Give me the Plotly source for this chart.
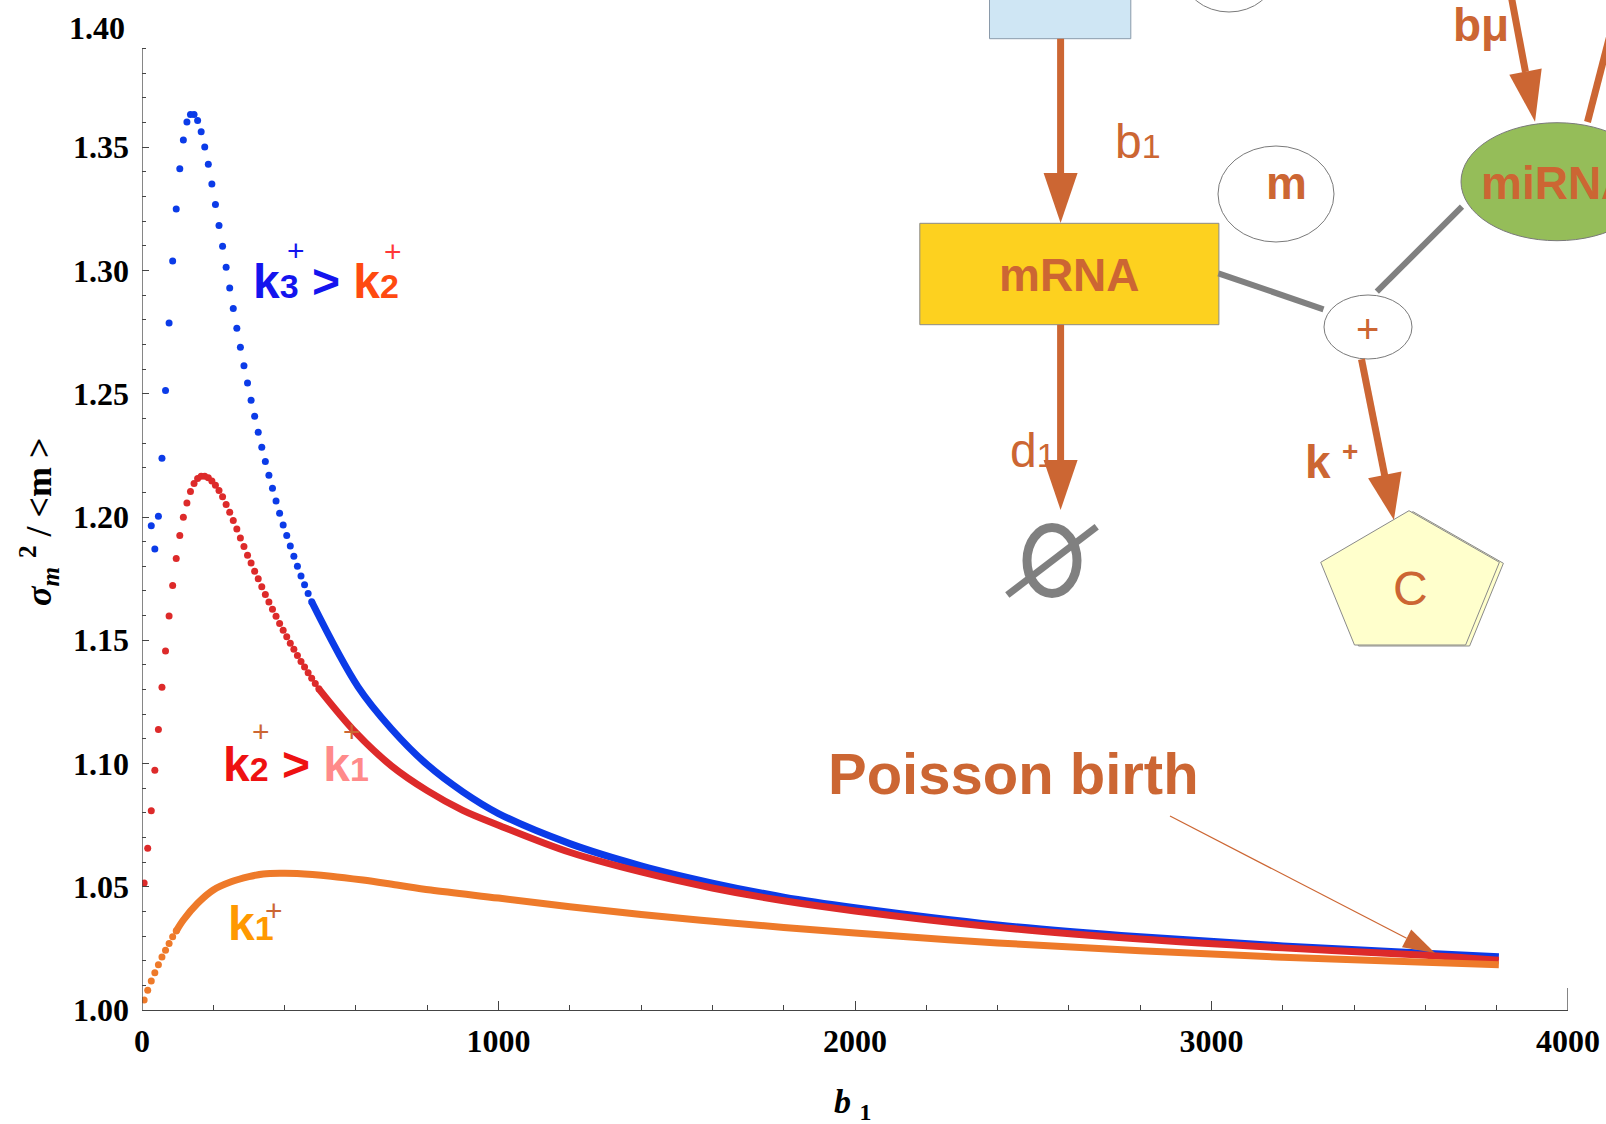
import plotly.graph_objects as go

# ---------------------------------------------------------------- data
# Fano factor sigma_m^2/<m> versus transcription rate b1, three k+ values.
# Dotted part (individually resolved points)
blue_b1 = [26, 36, 46, 56, 66, 76, 86, 96, 106, 116, 126, 136, 146, 156, 166,
           176, 186, 196, 206, 216, 226, 236, 246, 256, 266, 276, 286, 296,
           306, 316, 326, 336, 346, 356, 366, 376, 386, 396, 406, 416, 426,
           436, 446, 456, 466, 476]
blue_fano = [1.1964, 1.1870, 1.2003, 1.2238, 1.2513, 1.2787, 1.3039, 1.3249,
             1.3413, 1.3529, 1.3602, 1.3633, 1.3633, 1.3609, 1.3563, 1.3501,
             1.3431, 1.3351, 1.3268, 1.3183, 1.3098, 1.3013, 1.2929, 1.2846,
             1.2766, 1.2689, 1.2614, 1.2544, 1.2474, 1.2409, 1.2344, 1.2283,
             1.2225, 1.2169, 1.2117, 1.2065, 1.2015, 1.1968, 1.1925, 1.1882,
             1.1841, 1.1800, 1.1761, 1.1725, 1.1690, 1.1656]

red_b1 = [6, 16, 26, 36, 46, 56, 66, 76, 86, 96, 106, 116, 126, 136, 146, 156,
          166, 176, 186, 196, 206, 216, 226, 236, 246, 256, 266, 276, 286, 296,
          306, 316, 326, 336, 346, 356, 366, 376, 386, 396, 406, 416, 426, 436,
          446, 456, 466, 476, 486, 496]
red_fano = [1.0515, 1.0656, 1.0808, 1.0973, 1.1138, 1.1309, 1.1456, 1.1598,
            1.1722, 1.1832, 1.1925, 1.1999, 1.2057, 1.2103, 1.2136, 1.2156,
            1.2165, 1.2165, 1.2159, 1.2146, 1.2129, 1.2107, 1.2082, 1.2051,
            1.2019, 1.1986, 1.1951, 1.1915, 1.1880, 1.1845, 1.1813, 1.1780,
            1.1749, 1.1717, 1.1686, 1.1655, 1.1626, 1.1597, 1.1568, 1.1541,
            1.1514, 1.1488, 1.1463, 1.1438, 1.1414, 1.1391, 1.1368, 1.1346,
            1.1325, 1.1303]

orange_b1 = [6, 16, 26, 36, 46, 56, 66, 76, 86, 96]
orange_fano = [1.0041, 1.0080, 1.0118, 1.0151, 1.0184, 1.0215, 1.0242,
               1.0270, 1.0297, 1.0320]

# Dense part (points overlap into a solid band)
blue_tail_b1 = [476, 606, 700, 800, 900, 1000, 1200, 1400, 1600, 1800, 2000,
                2400, 2800, 3200, 3600, 3806]
blue_tail_fano = [1.1656, 1.1311, 1.1140, 1.0995, 1.0885, 1.0797, 1.0675,
                  1.0585, 1.0515, 1.0458, 1.0415, 1.0345, 1.0297, 1.0260,
                  1.0230, 1.0216]

red_tail_b1 = [496, 600, 700, 800, 900, 1000, 1200, 1400, 1600, 1800, 2000,
               2400, 2800, 3200, 3600, 3806]
red_tail_fano = [1.1303, 1.1125, 1.0990, 1.0890, 1.0810, 1.0750, 1.0640,
                 1.0560, 1.0495, 1.0443, 1.0402, 1.0336, 1.0288, 1.0252,
                 1.0222, 1.0202]

orange_tail_b1 = [96, 116, 156, 200, 250, 300, 340, 390, 435, 530, 620, 715,
                  810, 1000, 1200, 1400, 1600, 1800, 2000, 2400, 2800, 3200,
                  3600, 3806]
orange_tail_fano = [1.0320, 1.0365, 1.0433, 1.0487, 1.0520, 1.0541, 1.0552,
                    1.0555, 1.0554, 1.0543, 1.0527, 1.0507, 1.0487, 1.0454,
                    1.0419, 1.0387, 1.0360, 1.0335, 1.0312, 1.0272, 1.0240,
                    1.0214, 1.0194, 1.0184]

x_ticks = [0, 1000, 2000, 3000, 4000]
y_ticks = [1.00, 1.05, 1.10, 1.15, 1.20, 1.25, 1.30, 1.35]

BLUE = "#0B3BE8"
RED = "#DD2A2A"
ORANGE = "#EE7A2A"
BROWN = "#CC6633"
GREY = "#808080"

# ---------------------------------------------------------------- geometry
W, H = 1606, 1124
ML, MR, MT, MB = 142, 38, 24, 114
PW, PH = W - ML - MR, H - MT - MB


def px(x):
    """pixel column -> paper x"""
    return (x - ML) / PW


def py(y):
    """pixel row -> paper y"""
    return (H - MB - y) / PH


fig = go.Figure()

for xs, ys, col in [(blue_tail_b1, blue_tail_fano, BLUE),
                    (red_tail_b1, red_tail_fano, RED),
                    (orange_tail_b1, orange_tail_fano, ORANGE)]:
    fig.add_trace(go.Scatter(x=xs, y=ys, mode="lines",
                             line=dict(color=col, width=7, shape="spline"),
                             hoverinfo="skip", showlegend=False))

for xs, ys, col in [(blue_b1, blue_fano, BLUE),
                    (red_b1, red_fano, RED),
                    (orange_b1, orange_fano, ORANGE)]:
    fig.add_trace(go.Scatter(x=xs, y=ys, mode="markers",
                             marker=dict(color=col, size=7, line=dict(width=0)),
                             showlegend=False))

shapes = []


def line(x0, y0, x1, y1, color, width):
    shapes.append(dict(type="line", xref="paper", yref="paper",
                       x0=px(x0), y0=py(y0), x1=px(x1), y1=py(y1),
                       line=dict(color=color, width=width), layer="above"))


def poly(points, fill, lcolor="rgba(0,0,0,0)", lwidth=0):
    path = "M " + " L ".join(f"{px(a):.5f},{py(b):.5f}" for a, b in points) + " Z"
    shapes.append(dict(type="path", xref="paper", yref="paper", path=path,
                       fillcolor=fill, line=dict(color=lcolor, width=lwidth),
                       layer="above"))


def rect(x0, y0, x1, y1, fill, lcolor="#888888"):
    shapes.append(dict(type="rect", xref="paper", yref="paper",
                       x0=px(x0), y0=py(y1), x1=px(x1), y1=py(y0),
                       fillcolor=fill, line=dict(color=lcolor, width=1),
                       layer="above"))


def ellipse(cx, cy, rx, ry, fill, lcolor="#7A7A7A", lwidth=1):
    shapes.append(dict(type="circle", xref="paper", yref="paper",
                       x0=px(cx - rx), x1=px(cx + rx),
                       y0=py(cy + ry), y1=py(cy - ry),
                       fillcolor=fill, line=dict(color=lcolor, width=lwidth),
                       layer="above"))


# y axis line stops at 1.39
shapes.append(dict(type="line", xref="x", yref="y", x0=0, x1=0, y0=1.0,
                   y1=1.39, line=dict(color="#444444", width=1.3)))
# closing tick at the right end of the x axis
shapes.append(dict(type="line", xref="x", yref="paper", x0=4000, x1=4000,
                   y0=0, y1=22 / PH, line=dict(color="#444444", width=1.3)))

# reaction scheme
rect(989.5, -5, 1130.8, 38.7, "#CFE6F4", "#8A9AAA")
ellipse(1229, -26, 46, 38, "white")
line(1060.6, 38.7, 1060.6, 176, BROWN, 7)
poly([(1043.6, 173), (1077.6, 173), (1060.6, 223)], BROWN)
rect(919.8, 223.3, 1218.9, 324.7, "#FDD11F", "#8A8A8A")
ellipse(1276, 194, 58, 48, "white")
line(1218.4, 273.3, 1323.5, 309.3, GREY, 6)
ellipse(1368, 327, 44, 32, "white")
line(1376.8, 291.7, 1462, 206.7, GREY, 6)
ellipse(1557, 181.7, 96, 59, "#95BD59")
line(1511, -5, 1525.5, 72, BROWN, 7)
poly([(1541.7, 68.5), (1509.3, 74.7), (1535, 121.7)], BROWN)
line(1610, 35, 1587.5, 122, BROWN, 7)
line(1060.6, 324.7, 1060.6, 463, BROWN, 7)
poly([(1043.6, 460), (1077.6, 460), (1060.6, 510)], BROWN)
ellipse(1052, 560.5, 25, 33, "rgba(0,0,0,0)", GREY, 9)
line(1007.3, 595, 1096.7, 526.7, GREY, 7)
line(1361.5, 359.3, 1384.8, 476, BROWN, 7)
poly([(1401.5, 471.5), (1368.1, 478.3), (1393.9, 520)], BROWN)
poly([(1413, 511.7), (1503.4, 563.3), (1469.6, 646), (1358.5, 646),
      (1324.7, 563.3)], "#FFFFCC", "#8A8A8A", 1)
poly([(1409, 510.7), (1499.4, 562.3), (1465.6, 645), (1354.5, 645),
      (1320.7, 562.3)], "#FFFFCC", "#8A8A8A", 1)
# pointer to the Poisson limit
line(1170, 816, 1406.6, 938.3, BROWN, 1.2)
poly([(1411.2, 929.4), (1402, 947.2), (1435, 953)], BROWN)

ann = []


def text(x, y, s, size, color, bold=False, anchor="center", family="Liberation Sans"):
    ann.append(dict(xref="paper", yref="paper", x=px(x), y=py(y), text=s,
                    showarrow=False, xanchor=anchor, yanchor="middle",
                    font=dict(family=family, size=size, color=color,
                              weight="bold" if bold else "normal")))


def sm(s, size):
    return f"<span style='font-size:{size}px'>{s}</span>"


def col(s, c):
    return f"<span style='color:{c}'>{s}</span>"


text(1113, 141.5, "b" + sm("1", 34), 48, BROWN, anchor="left")
text(1286, 183, "m", 46, BROWN, bold=True)
text(1069, 275, "mRNA", 46, BROWN, bold=True)
text(1367, 329, "+", 40, BROWN)
text(1451, 25, "bμ", 46, BROWN, bold=True, anchor="left")
text(1557, 183.5, "miRNA", 46, BROWN, bold=True)
text(1008, 450, "d" + sm("1", 34), 48, BROWN, anchor="left")
text(1303, 462, "k", 46, BROWN, bold=True, anchor="left")
text(1350, 452, "+", 28, BROWN, bold=True)
text(1410, 588, "C", 48, BROWN)
text(1013, 773, "Poisson birth", 58, BROWN, bold=True)

# curve labels
text(251, 281, col("k" + sm("3", 34) + " &gt; ", "#1414EE") +
     col("k" + sm("2", 34), "#FF4A10"), 48, BLUE, bold=True, anchor="left")
text(295.5, 250.5, "+", 30, "#1414EE")
text(392.5, 251, "+", 30, "#FF3838")
text(221, 764.5, col("k" + sm("2", 34) + " &gt; ", "#EE1111") +
     col("k" + sm("1", 34), "#FF8A8A"), 48, RED, bold=True, anchor="left")
text(260.5, 731, "+", 30, BROWN)
text(351.5, 731, "+", 30, BROWN)
text(226, 923.5, "k" + sm("1", 34), 48, "#FF9900", bold=True, anchor="left")
text(274, 910, "+", 30, BROWN)

# axis titles
ann.append(dict(xref="paper", yref="paper", x=px(39), y=py(522),
                text="<i>σ</i><sub><i>m</i></sub> <sup>2</sup> / &lt;m &gt;",
                textangle=-90, showarrow=False, xanchor="center", yanchor="middle",
                font=dict(family="Liberation Serif", size=36, color="black",
                          weight="bold")))
ann.append(dict(xref="paper", yref="paper", x=px(852), y=py(1104),
                text="<i>b</i> <sub>1</sub>", showarrow=False,
                xanchor="center", yanchor="middle",
                font=dict(family="Liberation Serif", size=34, color="black",
                          weight="bold")))
# top label of the y scale (axis ends just below it)
ann.append(dict(xref="paper", yref="paper", x=px(127), y=py(28), text="1.40",
                showarrow=False, xanchor="right", yanchor="middle",
                font=dict(family="Liberation Serif", size=32, color="black",
                          weight="bold")))

minor_y = [round(1.0 + 0.01 * i, 2) for i in range(1, 40) if i % 5]

fig.update_layout(
    width=W, height=H,
    margin=dict(l=ML, r=MR, t=MT, b=MB, autoexpand=False),
    plot_bgcolor="white", paper_bgcolor="white",
    shapes=shapes, annotations=ann,
    xaxis=dict(range=[0, 4000], tickvals=x_ticks, ticks="inside", ticklen=9,
               tickcolor="#444444", tickwidth=1.2, showgrid=False,
               zeroline=False, showline=True, linecolor="#444444",
               linewidth=1.3, ticklabelstandoff=2, automargin=False,
               minor=dict(dtick=200, ticks="inside", ticklen=5,
                          tickcolor="#444444", tickwidth=1, showgrid=False),
               tickfont=dict(family="Liberation Serif", size=32, color="black",
                             weight="bold")),
    yaxis=dict(range=[1.0, 1.40], tickvals=y_ticks, tickformat=".2f",
               ticks="inside", ticklen=7, tickcolor="#444444", tickwidth=1.2,
               showgrid=False, zeroline=False, showline=False,
               ticklabelstandoff=12, automargin=False,
               minor=dict(tickmode="array", tickvals=minor_y, ticks="inside",
                          ticklen=4, tickcolor="#444444", tickwidth=1,
                          showgrid=False),
               tickfont=dict(family="Liberation Serif", size=32, color="black",
                             weight="bold")),
)

fig.write_html("out.html")
